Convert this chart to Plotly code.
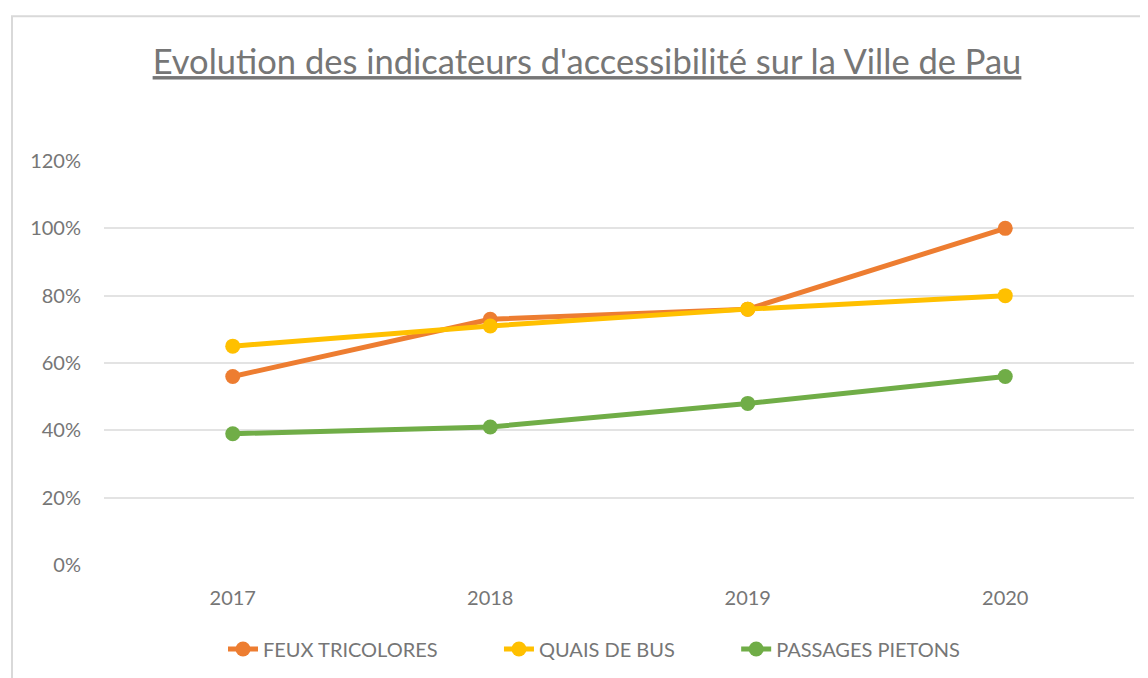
import plotly.graph_objects as go

years = ["2017", "2018", "2019", "2020"]
feux_tricolores = [0.56, 0.73, 0.76, 1.00]
quais_de_bus = [0.65, 0.71, 0.76, 0.80]
passages_pietons = [0.39, 0.41, 0.48, 0.56]
series_names = ["FEUX TRICOLORES", "QUAIS DE BUS", "PASSAGES PIETONS"]
series_colors = ["#ED7D31", "#FFC000", "#70AD47"]

FONT = "Lato, Open Sans, sans-serif"
GRAY = "#767676"
PAD = "\u00a0" * 11  # extra spacing between legend entries

fig = go.Figure()
all_vals = [feux_tricolores, quais_de_bus, passages_pietons]
for i, (name, vals, col) in enumerate(zip(series_names, all_vals, series_colors)):
    label = name + (PAD if i < len(series_names) - 1 else "")
    fig.add_trace(go.Scatter(
        x=years, y=vals, name=label, mode="lines+markers",
        line=dict(color=col, width=5),
        marker=dict(color=col, size=15),
    ))

OFF = 7  # page offset of the figure div
W, H = 1141, 671
L, T = 103 - OFF, 160 - OFF
pw, ph = 1030, 405
R = W - L - pw
B = H - T - ph

fig.update_layout(
    width=W, height=H,
    margin=dict(l=L, r=R, t=T, b=B),
    paper_bgcolor="white", plot_bgcolor="white",
    font=dict(family=FONT, color=GRAY, size=20),
    title=dict(
        text="<u>Evolution des indicateurs d'accessibilité sur la Ville de Pau</u>",
        x=(586 - 103) / pw, xref="paper", xanchor="center",
        y=1 - (61 - OFF) / H, yref="container", yanchor="middle",
        font=dict(family=FONT, size=34.5, color=GRAY),
    ),
    xaxis=dict(
        type="category", showgrid=False, zeroline=False, showline=False,
        ticks="", tickfont=dict(size=20, color=GRAY),
        range=[-0.5, 3.5], ticklabelstandoff=19,
    ),
    yaxis=dict(
        range=[0, 1.2], dtick=0.2, tickformat=".0%",
        showgrid=True, gridcolor="#E3E3E3", gridwidth=2,
        zeroline=False, showline=False, ticks="",
        tickfont=dict(size=20, color=GRAY),
        ticklabelstandoff=22,
    ),
    legend=dict(
        orientation="h", x=(222 - 103) / pw, xanchor="left",
        y=-(648 - 565) / ph, yanchor="middle",
        font=dict(size=20, color=GRAY),
        traceorder="normal",
    ),
    showlegend=True,
)

# light chart border
fig.add_shape(
    type="rect", xref="paper", yref="paper",
    x0=(11 - 103) / pw, x1=(1160 - 103) / pw,
    y0=-(700 - 565) / ph, y1=(565 - 15) / ph,
    line=dict(color="#D9D9D9", width=2), fillcolor="rgba(0,0,0,0)",
    layer="below",
)

fig.write_html("out.html")
